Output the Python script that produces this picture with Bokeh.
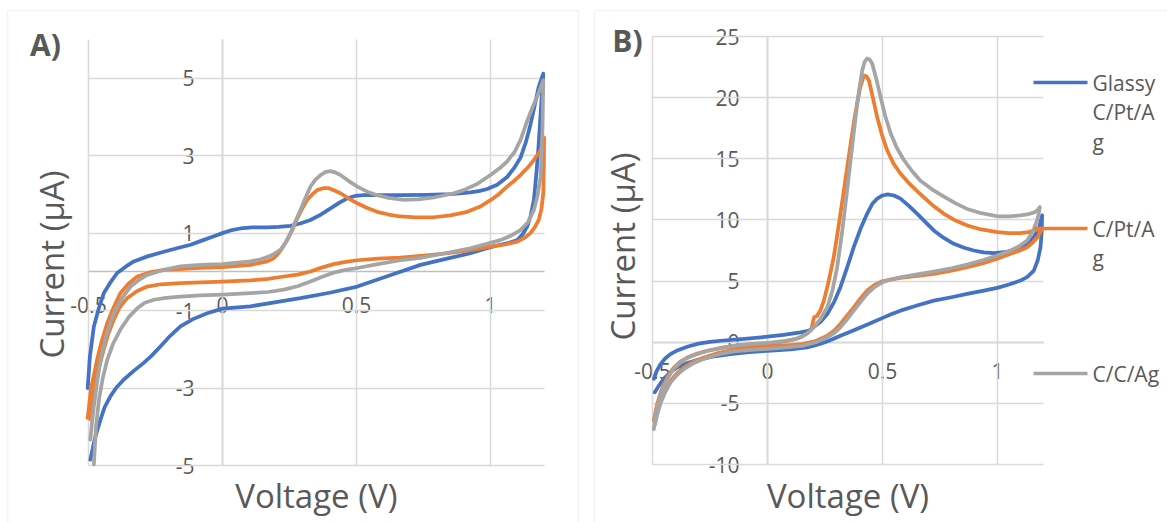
import math

from bokeh.plotting import figure
from bokeh.layouts import row
from bokeh.models import (Range1d, LinearAxis, FixedTicker, Grid, Label,
                          BoxAnnotation, NumeralTickFormatter)
from bokeh.embed import file_html
from bokeh.resources import INLINE

# ---------------- Panel A: cyclic voltammograms (current in µA vs potential in V) ----
# each series: forward scan (-0.5 V -> 1.2 V) followed by the reverse scan
a_glassy_v = [-0.503, -0.495, -0.48, -0.462, -0.443, -0.418, -0.393, -0.36, -0.331, -0.28,
              -0.219, -0.17, -0.119, -0.08, -0.032, 0.0, 0.03, 0.067, 0.11, 0.167,
              0.21, 0.254, 0.29, 0.328, 0.365, 0.403, 0.435, 0.465, 0.495, 0.527,
              0.6, 0.664, 0.76, 0.851, 0.925, 0.96, 0.988, 1.025, 1.062, 1.09,
              1.112, 1.132, 1.149, 1.165, 1.18, 1.197,
              1.19, 1.18, 1.172, 1.162, 1.15, 1.137, 1.12, 1.1, 1.07, 1.037,
              0.98, 0.925, 0.83, 0.739, 0.62, 0.503, 0.4, 0.291, 0.2, 0.104,
              0.0, -0.057, -0.11, -0.157, -0.195, -0.231, -0.265, -0.294, -0.33, -0.368,
              -0.395, -0.418, -0.44, -0.455, -0.47, -0.48, -0.493]
a_glassy_i = [-3.0, -2.2, -1.41, -0.95, -0.55, -0.27, -0.03, 0.14, 0.27, 0.40,
              0.52, 0.61, 0.70, 0.80, 0.92, 1.0, 1.07, 1.12, 1.15, 1.15,
              1.16, 1.19, 1.25, 1.34, 1.47, 1.64, 1.78, 1.90, 1.96, 1.98,
              1.98, 1.98, 1.99, 2.01, 2.05, 2.09, 2.14, 2.25, 2.45, 2.7,
              2.95, 3.35, 3.8, 4.3, 4.78, 5.12,
              4.4, 3.32, 2.6, 1.86, 1.45, 1.17, 0.97, 0.82, 0.75, 0.70,
              0.60, 0.48, 0.33, 0.18, -0.10, -0.38, -0.54, -0.68, -0.78, -0.89,
              -0.95, -1.07, -1.22, -1.41, -1.65, -1.92, -2.17, -2.35, -2.55, -2.78,
              -2.98, -3.21, -3.5, -3.81, -4.15, -4.42, -4.85]

a_cpt_v = [-0.503, -0.49, -0.468, -0.45, -0.43, -0.405, -0.381, -0.35, -0.318, -0.27,
           -0.219, -0.15, -0.082, 0.0, 0.104, 0.167, 0.19, 0.204, 0.222, 0.241,
           0.26, 0.279, 0.298, 0.316, 0.335, 0.353, 0.375, 0.397, 0.418, 0.44,
           0.47, 0.503, 0.54, 0.577, 0.62, 0.664, 0.72, 0.789, 0.85, 0.913,
           0.96, 1.0, 1.03, 1.062, 1.09, 1.112, 1.14, 1.162, 1.187, 1.2,
           1.199, 1.197, 1.19, 1.18, 1.165, 1.149, 1.125, 1.1, 1.05, 1.0,
           0.93, 0.863, 0.8, 0.739, 0.664, 0.58, 0.503, 0.46, 0.415, 0.37,
           0.328, 0.28, 0.229, 0.17, 0.104, 0.0, -0.082, -0.157, -0.23, -0.281,
           -0.32, -0.356, -0.385, -0.406, -0.426, -0.443, -0.46, -0.474, -0.485, -0.493]
a_cpt_i = [-3.77, -3.0, -2.27, -1.78, -1.32, -0.9, -0.55, -0.3, -0.12, -0.01,
           0.05, 0.08, 0.10, 0.12, 0.18, 0.27, 0.35, 0.44, 0.6, 0.82,
           1.08, 1.38, 1.64, 1.86, 2.0, 2.11, 2.16, 2.16, 2.1, 2.03,
           1.9, 1.77, 1.65, 1.55, 1.48, 1.43, 1.41, 1.41, 1.46, 1.55,
           1.68, 1.85, 2.0, 2.2, 2.36, 2.5, 2.7, 2.89, 3.14, 3.47,
           2.7, 2.03, 1.62, 1.34, 1.15, 1.0, 0.87, 0.78, 0.70, 0.65,
           0.57, 0.50, 0.45, 0.41, 0.37, 0.34, 0.30, 0.26, 0.20, 0.11,
           0.01, -0.07, -0.12, -0.18, -0.22, -0.25, -0.27, -0.29, -0.32, -0.38,
           -0.5, -0.68, -0.93, -1.24, -1.6, -2.0, -2.45, -2.95, -3.4, -3.81]

a_cc_v = [-0.493, -0.487, -0.48, -0.468, -0.455, -0.432, -0.406, -0.375, -0.343, -0.31,
          -0.281, -0.22, -0.157, -0.082, 0.0, 0.104, 0.14, 0.167, 0.195, 0.216,
          0.235, 0.254, 0.272, 0.291, 0.31, 0.328, 0.347, 0.366, 0.385, 0.403,
          0.42, 0.44, 0.47, 0.503, 0.54, 0.577, 0.62, 0.677, 0.73, 0.789,
          0.863, 0.9, 0.95, 1.0, 1.035, 1.062, 1.09, 1.112, 1.137, 1.157,
          1.174, 1.197,
          1.194, 1.187, 1.175, 1.162, 1.14, 1.112, 1.075, 1.037, 0.98, 0.925,
          0.83, 0.739, 0.664, 0.58, 0.503, 0.46, 0.415, 0.37, 0.328, 0.28,
          0.229, 0.17, 0.104, 0.0, -0.082, -0.157, -0.21, -0.256, -0.29, -0.318,
          -0.35, -0.381, -0.408, -0.43, -0.447, -0.461, -0.472, -0.48]
a_cc_i = [-4.33, -3.9, -3.47, -2.85, -2.27, -1.6, -1.07, -0.68, -0.38, -0.2,
          -0.08, 0.05, 0.14, 0.18, 0.2, 0.27, 0.32, 0.38, 0.47, 0.57,
          0.75, 1.0, 1.3, 1.6, 1.92, 2.2, 2.38, 2.5, 2.58, 2.6,
          2.57, 2.5, 2.35, 2.2, 2.07, 1.98, 1.91, 1.86, 1.87, 1.92,
          2.03, 2.11, 2.27, 2.5, 2.68, 2.85, 3.1, 3.4, 3.9, 4.25,
          4.52, 4.95,
          3.7, 2.46, 1.95, 1.6, 1.28, 1.08, 0.93, 0.82, 0.71, 0.61,
          0.48, 0.36, 0.30, 0.20, 0.10, 0.05, -0.02, -0.13, -0.25, -0.37,
          -0.46, -0.52, -0.55, -0.59, -0.61, -0.64, -0.67, -0.72, -0.8, -0.94,
          -1.17, -1.49, -1.85, -2.27, -2.75, -3.3, -4.0, -4.97]

# ---------------- Panel B ----------------
b_glassy_v = [-0.494, -0.482, -0.465, -0.445, -0.422, -0.39, -0.349, -0.3, -0.25, -0.204,
              -0.1, 0.0, 0.07, 0.143, 0.173, 0.19, 0.201, 0.23, 0.26, 0.29,
              0.317, 0.346, 0.375, 0.405, 0.433, 0.455, 0.477, 0.5, 0.523, 0.55,
              0.578, 0.615, 0.651, 0.688, 0.723, 0.765, 0.81, 0.855, 0.897, 0.94,
              0.984, 1.04, 1.086, 1.125, 1.158, 1.18, 1.194,
              1.192, 1.187, 1.175, 1.158, 1.13, 1.1, 1.05, 0.999, 0.93, 0.868,
              0.8, 0.723, 0.65, 0.578, 0.54, 0.506, 0.455, 0.404, 0.36, 0.317,
              0.28, 0.25, 0.21, 0.173, 0.1, 0.0, -0.08, -0.161, -0.24, -0.306,
              -0.355, -0.393, -0.425, -0.451, -0.472, -0.49]
b_glassy_i = [-3.0, -2.35, -1.79, -1.33, -0.97, -0.65, -0.37, -0.12, 0.02, 0.12,
              0.28, 0.45, 0.6, 0.8, 0.9, 1.05, 1.25, 1.65, 2.31, 3.3,
              4.5, 6.1, 7.77, 9.3, 10.5, 11.3, 11.74, 12.0, 12.09, 12.0,
              11.74, 11.15, 10.5, 9.8, 9.14, 8.55, 8.05, 7.72, 7.5, 7.35,
              7.28, 7.38, 7.64, 8.0, 8.59, 9.3, 10.37,
              9.0, 7.77, 6.7, 5.86, 5.35, 5.04, 4.72, 4.44, 4.18, 3.95,
              3.68, 3.4, 3.0, 2.58, 2.3, 2.03, 1.62, 1.21, 0.85, 0.53,
              0.22, 0.0, -0.25, -0.42, -0.58, -0.7, -0.82, -0.97, -1.18, -1.46,
              -1.75, -2.07, -2.5, -3.0, -3.55, -4.1]

b_cpt_v = [-0.494, -0.487, -0.48, -0.465, -0.451, -0.43, -0.407, -0.38, -0.349, -0.305,
           -0.262, -0.2, -0.146, -0.07, 0.0, 0.07, 0.12, 0.143, 0.17, 0.19,
           0.197, 0.203, 0.215, 0.23, 0.245, 0.265, 0.288, 0.31, 0.332, 0.355,
           0.375, 0.39, 0.404, 0.419, 0.43, 0.441, 0.458, 0.477, 0.497, 0.52,
           0.548, 0.578, 0.62, 0.665, 0.715, 0.767, 0.818, 0.868, 0.93, 0.999,
           1.05, 1.1, 1.135, 1.158, 1.194,
           1.175, 1.15, 1.129, 1.095, 1.057, 0.999, 0.935, 0.868, 0.8, 0.723,
           0.65, 0.578, 0.535, 0.499, 0.465, 0.433, 0.405, 0.375, 0.345, 0.317,
           0.29, 0.26, 0.21, 0.15, 0.07, 0.0, -0.07, -0.146, -0.215, -0.277,
           -0.325, -0.364, -0.395, -0.422, -0.445, -0.465, -0.478, -0.49]
b_cpt_i = [-6.4, -5.7, -5.07, -4.15, -3.43, -2.7, -2.07, -1.6, -1.25, -0.93,
           -0.7, -0.46, -0.29, -0.17, -0.1, 0.05, 0.25, 0.4, 0.7, 1.0,
           1.6, 2.05, 2.15, 2.6, 3.4, 4.9, 6.95, 9.6, 12.4, 15.4,
           17.9, 19.6, 20.9, 21.8, 21.75, 21.4, 20.0, 18.4, 17.0, 15.7,
           14.6, 13.8, 12.9, 12.1, 11.25, 10.5, 9.95, 9.55, 9.22, 9.0,
           8.93, 8.92, 9.0, 9.14, 9.28,
           8.6, 8.1, 7.77, 7.48, 7.23, 6.82, 6.45, 6.13, 5.85, 5.59,
           5.42, 5.26, 5.12, 4.98, 4.68, 4.22, 3.6, 2.85, 2.15, 1.49,
           0.95, 0.53, 0.1, -0.15, -0.28, -0.35, -0.45, -0.6, -0.88, -1.25,
           -1.62, -2.07, -2.58, -3.16, -3.9, -4.8, -5.5, -6.1]

b_cc_v = [-0.494, -0.487, -0.48, -0.465, -0.451, -0.43, -0.407, -0.38, -0.349, -0.305,
          -0.262, -0.2, -0.146, -0.07, 0.0, 0.07, 0.12, 0.143, 0.175, 0.201,
          0.23, 0.26, 0.282, 0.303, 0.325, 0.346, 0.365, 0.383, 0.398, 0.412,
          0.423, 0.433, 0.445, 0.455, 0.472, 0.491, 0.512, 0.535, 0.562, 0.593,
          0.628, 0.665, 0.715, 0.767, 0.818, 0.868, 0.93, 0.999, 1.05, 1.1,
          1.135, 1.158, 1.175, 1.184,
          1.18, 1.172, 1.155, 1.129, 1.095, 1.057, 0.999, 0.935, 0.868, 0.8,
          0.723, 0.65, 0.578, 0.535, 0.499, 0.465, 0.433, 0.405, 0.375, 0.345,
          0.317, 0.29, 0.26, 0.21, 0.15, 0.07, 0.0, -0.07, -0.146, -0.215,
          -0.277, -0.325, -0.364, -0.395, -0.422, -0.445, -0.465, -0.478, -0.49]
b_cc_i = [-7.1, -6.1, -5.3, -4.35, -3.6, -2.8, -2.15, -1.68, -1.3, -0.97,
          -0.72, -0.47, -0.3, -0.14, -0.05, 0.08, 0.25, 0.4, 0.75, 1.21,
          1.9, 2.85, 4.2, 6.13, 9.1, 12.4, 15.5, 18.4, 20.6, 22.25,
          22.95, 23.2, 23.1, 22.8, 21.6, 20.1, 18.5, 17.1, 15.9, 14.9,
          14.0, 13.2, 12.5, 11.9, 11.35, 10.9, 10.55, 10.3, 10.3, 10.37,
          10.48, 10.6, 10.8, 11.05,
          10.6, 9.96, 9.1, 8.32, 7.85, 7.5, 7.09, 6.7, 6.35, 6.05,
          5.78, 5.55, 5.31, 5.13, 4.9, 4.5, 3.95, 3.3, 2.58, 1.85,
          1.21, 0.75, 0.4, 0.0, -0.3, -0.45, -0.55, -0.63, -0.75, -1.0,
          -1.35, -1.75, -2.2, -2.7, -3.3, -4.1, -5.0, -5.8, -6.8]

series_names = ["Glassy C/Pt/Ag", "C/Pt/Ag", "C/C/Ag"]
legend_rows = [["Glassy", "C/Pt/A", "g"], ["C/Pt/A", "g"], ["C/C/Ag"]]
series_colors = ["#4472C4", "#ED7D31", "#A5A5A5"]

a_x_ticks = [-0.5, 0, 0.5, 1]
a_y_ticks = [-5, -3, -1, 1, 3, 5]
b_x_ticks = [-0.5, 0, 0.5, 1]
b_y_ticks = [-10, -5, 0, 5, 10, 15, 20, 25]

x_title = "Voltage (V)"
y_title = "Current (µA)"

FONT = "Open Sans"
INK = "#595959"
GRID = "#d9d9d9"
AXIS = "#bfbfbf"
H = 522


def span_to_canvas(lo, hi, p_lo, p_hi, size):
    """Extend a data interval [lo, hi] drawn between pixels p_lo..p_hi to the full canvas."""
    per_px = (hi - lo) / (p_hi - p_lo)
    return lo - p_lo * per_px, hi + (size - p_hi) * per_px


def make_panel(width, frame, x_lim, y_lim, x_ticks, y_ticks, curves,
               tag, tag_xy, ytitle_xy, x_std, y_std, border):
    left, right, top, bottom = frame
    # the frame fills the whole canvas; the plot area is mapped onto left..right / top..bottom
    x0, x1 = span_to_canvas(x_lim[0], x_lim[1], left, right, width)
    y1, y0 = span_to_canvas(y_lim[1], y_lim[0], top, bottom, H)
    p = figure(width=width, height=H, x_range=Range1d(x0, x1), y_range=Range1d(y0, y1),
               x_axis_type=None, y_axis_type=None, output_backend="svg",
               toolbar_location=None, min_border=0, min_border_left=0, min_border_right=0,
               min_border_top=0, min_border_bottom=0,
               outline_line_color=None, background_fill_color="white",
               border_fill_color="white")

    xaxis = LinearAxis(fixed_location=0, ticker=FixedTicker(ticks=x_ticks),
                       formatter=NumeralTickFormatter(format="0.[0]"), bounds=x_lim)
    yaxis = LinearAxis(fixed_location=0, ticker=FixedTicker(ticks=y_ticks),
                       formatter=NumeralTickFormatter(format="0"), bounds=y_lim)
    for ax, std in ((xaxis, x_std), (yaxis, y_std)):
        ax.level = "underlay"
        ax.axis_line_color = AXIS
        ax.axis_line_width = 1.5
        ax.major_tick_line_color = None
        ax.minor_tick_line_color = None
        ax.major_label_standoff = std
        ax.major_label_text_font = FONT
        ax.major_label_text_font_size = "21px"
        ax.major_label_text_color = INK

    p.add_layout(Grid(dimension=0, ticker=xaxis.ticker, bounds=x_lim, cross_bounds=y_lim,
                      grid_line_color=GRID, grid_line_width=1.5))
    p.add_layout(Grid(dimension=1, ticker=yaxis.ticker, bounds=y_lim, cross_bounds=x_lim,
                      grid_line_color=GRID, grid_line_width=1.5))
    p.add_layout(xaxis, "below")
    p.add_layout(yaxis, "left")

    for (vs, cs), name, color in zip(curves, series_names, series_colors):
        p.line(vs, cs, line_color=color, line_width=3.75, line_join="round",
               line_cap="round", name=name)

    # light chart-area border
    p.add_layout(BoxAnnotation(left=border[0], right=border[1], top=border[2], bottom=border[3],
                               left_units="canvas", right_units="canvas",
                               top_units="canvas", bottom_units="canvas",
                               fill_color=None, line_color=GRID, line_width=1.5))

    p.add_layout(Label(x=tag_xy[0], y=tag_xy[1], x_units="canvas", y_units="canvas",
                       text=tag, text_font=FONT, text_font_style="bold",
                       text_font_size="30px", text_color=INK,
                       text_align="center", text_baseline="middle"))
    p.add_layout(Label(x=ytitle_xy[0], y=ytitle_xy[1], x_units="canvas", y_units="canvas",
                       angle=math.pi / 2, text=y_title, text_font=FONT,
                       text_font_size="33px", text_color=INK,
                       text_align="center", text_baseline="middle"))
    p.add_layout(Label(x=(left + right) / 2, y=495, x_units="canvas", y_units="canvas",
                       text=x_title, text_font=FONT, text_font_size="33px",
                       text_color=INK, text_align="center", text_baseline="middle"))
    return p


pa = make_panel(586, (88, 543.6, 39, 465), (-0.5, 1.2), (-5, 6), a_x_ticks, a_y_ticks,
                [(a_glassy_v, a_glassy_i), (a_cpt_v, a_cpt_i), (a_cc_v, a_cc_i)],
                "A)", (45, 44), (51, 264), 19, 22, (7, 578, 10, 560))

pb = make_panel(581, (66, 457, 36, 464), (-0.5, 1.2), (-10, 25), b_x_ticks, b_y_ticks,
                [(b_glassy_v, b_glassy_i), (b_cpt_v, b_cpt_i), (b_cc_v, b_cc_i)],
                "B)", (41, 40), (36, 246), 15, 22, (8, 620, 10, 560))

# legend at the right of panel B, with the labels wrapped over several rows
legend_top = [82, 228, 373]
row_step = 29.5
for color, rows, y0 in zip(series_colors, legend_rows, legend_top):
    pb.add_layout(BoxAnnotation(left=447, right=501, top=y0 - 1.75, bottom=y0 + 1.75,
                                left_units="canvas", right_units="canvas",
                                top_units="canvas", bottom_units="canvas",
                                fill_color=color, fill_alpha=1.0, line_color=None))
    for k, txt in enumerate(rows):
        pb.add_layout(Label(x=506, y=y0 + k * row_step, x_units="canvas", y_units="canvas",
                            text=txt, text_font=FONT, text_font_size="21px",
                            text_color=INK, text_align="left", text_baseline="middle"))

layout = row(pa, pb)
open("out.html", "w").write(file_html(layout, INLINE))
